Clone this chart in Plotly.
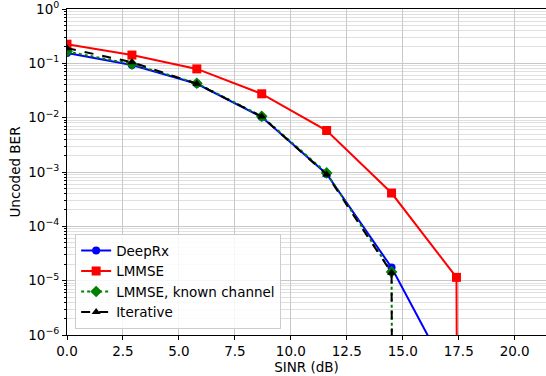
import numpy as np
import plotly.graph_objects as go

sinr = [0.0, 2.9, 5.8, 8.7, 11.6, 14.5, 17.4]
deeprx = [0.155, 0.093, 0.042, 0.0103, 9.2e-4, 1.75e-5, 1.0e-7]
lmmse = [0.225, 0.142, 0.079, 0.0275, 0.0058, 4.1e-4, 1.15e-5, 0.0]
sinr_lmmse = sinr + [20.3]
known = [0.165, 0.097, 0.043, 0.0106, 9.6e-4, 1.45e-5, 0.0]
iterative = [0.19, 0.105, 0.042, 0.0105, 9.0e-4, 1.4e-5, 0.0]

series = [
    ("DeepRx", sinr, deeprx, "blue", "solid", "circle", 8),
    ("LMMSE", sinr_lmmse, lmmse, "red", "solid", "square", 9),
    ("LMMSE, known channel", sinr, known, "green", "dot", "diamond", 9),
    ("Iterative", sinr, iterative, "black", "dash", "triangle-up", 8),
]

fig = go.Figure()
for name, xs, ys, col, dash, sym, ms in series:
    y = np.array(ys, dtype=float)
    y = np.where(y > 0, y, 1e-300)  # zero BER: line falls straight off the log axis
    fig.add_trace(go.Scatter(
        x=xs, y=y, name=name, mode="lines+markers",
        line=dict(color=col, width=2, dash=dash),
        marker=dict(symbol=sym, size=ms, color=col),
        cliponaxis=True,
    ))

ytick_vals = [10.0 ** k for k in range(-6, 1)]
ytick_text = ["10<sup>%s</sup>" % (str(k).replace("-", "−")) for k in range(-6, 1)]

FS = 13.5
fig.update_layout(
    width=546, height=376,
    margin=dict(l=67, r=0, t=9, b=41),
    paper_bgcolor="white", plot_bgcolor="white",
    font=dict(family="DejaVu Sans", size=FS, color="black"),
    showlegend=True,
    legend=dict(
        x=0.017, y=0.018, xanchor="left", yanchor="bottom",
        bgcolor="rgba(255,255,255,0.85)", bordercolor="#cccccc", borderwidth=1,
        font=dict(size=FS), tracegroupgap=0,
    ),
    xaxis=dict(
        range=[0, 21.4], tickvals=[0, 2.5, 5, 7.5, 10, 12.5, 15, 17.5, 20],
        tickformat=".1f", ticks="outside", ticklen=4, tickcolor="black",
        showline=True, linecolor="black", linewidth=1, mirror=True,
        showgrid=True, gridcolor="#c8c8c8", gridwidth=1, zeroline=False,
        automargin=False, ticklabeloverflow="allow",
        title=dict(text="SINR (dB)", standoff=0, font=dict(size=FS)),
    ),
    yaxis=dict(
        type="log", range=[-6, 0],
        tickvals=ytick_vals, ticktext=ytick_text,
        ticks="outside", ticklen=4, tickcolor="black",
        showline=True, linecolor="black", linewidth=1,
        showgrid=True, gridcolor="#c8c8c8", gridwidth=1, zeroline=False,
        automargin=False, ticklabeloverflow="allow",
        minor=dict(dtick="D1", showgrid=True, gridcolor="#e0e0e0", ticks="outside",
                   ticklen=2, tickcolor="black"),
        title=dict(text="Uncoded BER", standoff=4, font=dict(size=FS)),
    ),
)

# remove the page's default body margin so the figure fills the window exactly
fig.write_html("out.html", config={"displayModeBar": False},
               post_script="document.body.style.margin='0';")
